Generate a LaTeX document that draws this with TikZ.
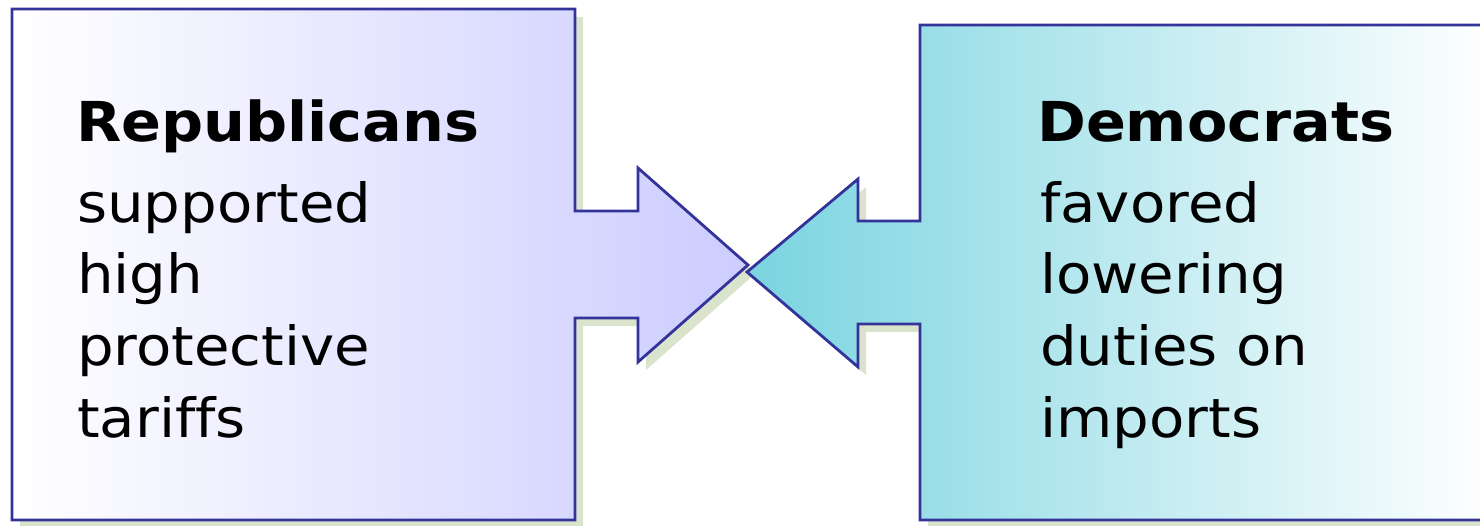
\documentclass[tikz,border=0pt]{standalone}
\usepackage{fontspec}
\setmainfont{DejaVu Sans}
\newfontfamily\headfont{DejaVu Sans}[FakeStretch=1.07]
\newfontfamily\bodyfont{DejaVu Sans}[FakeStretch=1.07, Ligatures=NoCommon]
\usetikzlibrary{calc}

\definecolor{edge}{RGB}{51,51,153}
\definecolor{lavender}{RGB}{204,204,255}
\definecolor{aqua}{RGB}{122,212,224}
\definecolor{shadowgreen}{RGB}{218,228,204}

% block outlines (pixel units)
\newcommand{\repshape}{(12,9) -- (575,9) -- (575,211) -- (638,211) -- (638,168)
  -- (748,265) -- (638,362) -- (638,318) -- (575,318) -- (575,520) -- (12,520) -- cycle}
\newcommand{\demshape}{(1490,25) -- (920,25) -- (920,221) -- (858,221) -- (858,179)
  -- (747,272) -- (858,367) -- (858,324) -- (920,324) -- (920,520) -- (1490,520) -- cycle}

\begin{document}
\begin{tikzpicture}[x=1pt, y=-1pt,
  outline/.style={draw=edge, line width=2.8pt, line join=miter},
  drop/.style={fill=shadowgreen},
  headtext/.style={inner sep=0pt, anchor=base west,
    font=\headfont\bfseries\fontsize{55}{60}\selectfont},
  bodytext/.style={inner sep=0pt, anchor=base west,
    font=\bodyfont\fontsize{54}{60}\selectfont}]

\useasboundingbox (0,0) rectangle (1480,525);
\clip (0,0) rectangle (1480,525);

% shadows
\fill[drop, shift={(8,8)}] \repshape;
\fill[drop, shift={(8,8)}] \demshape;

% Republicans block, arrow to the right
\shadedraw[outline, left color=white, right color=lavender] \repshape;
\coordinate (repTip) at (748,265);

% Democrats block, arrow to the left
\shadedraw[outline, left color=aqua, right color=white] \demshape;
\coordinate (demTip) at (747,272);

% headings
\node[headtext] (repHead) at (76,141) {Republicans};
\node[headtext] (demHead) at (1037,141) {Democrats};

% text lines
\foreach \txt [count=\i] in {supported, high, protective, tariffs}
  \node[bodytext] (rep-\i) at (77,{222+71.7*(\i-1)}) {\txt};
\foreach \txt [count=\i] in {favored, lowering, duties on, imports}
  \node[bodytext] (dem-\i) at (1040,{222+71.7*(\i-1)}) {\txt};

\end{tikzpicture}
\end{document}
